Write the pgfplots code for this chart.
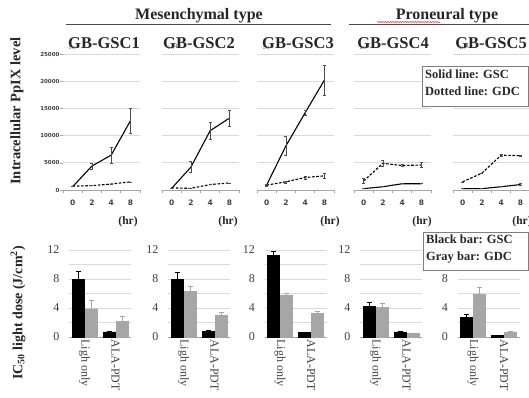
\documentclass[border=0pt]{standalone}
\usepackage{fontspec}
\setmainfont{Liberation Serif}
\newfontfamily\dvs{DejaVu Sans}
\usepackage{pgfplots}
\pgfplotsset{compat=1.18}
\usetikzlibrary{decorations.pathmorphing}
\definecolor{gridc}{HTML}{D9D9D9}
\definecolor{barg}{HTML}{A6A6A6}
\definecolor{axc}{HTML}{A6A6A6}
\definecolor{tickc}{HTML}{404040}
\definecolor{boxc}{HTML}{7F7F7F}

\pgfplotsset{
 topp/.style={scale only axis, width=77pt, height=136pt, anchor=south west,
  xmin=-0.5, xmax=3.5, ymin=0, ymax=25000,
  axis x line=bottom, axis y line=left,
  x axis line style={axc, line width=0.8pt, -},
  y axis line style={draw=none},
  major tick length=0pt, minor tick length=3pt, tick align=outside,
  xtick={0,1,2,3}, xticklabels={0,2,4,8},
  minor xtick={-0.5,0.5,1.5,2.5,3.5},
  tick style={axc, line width=0.6pt},
  ytick={0,5000,...,25000}, yticklabels={},
  ymajorgrids, grid style={gridc, line width=0.8pt},
  xticklabel style={font=\dvs\bfseries\fontsize{7.5}{8}\selectfont, text=tickc, yshift=-6pt},
  yticklabel style={font=\dvs\bfseries\fontsize{5.5}{6}\selectfont, text=tickc},
  clip=false,
 },
 botp/.style={scale only axis, width=62pt, height=87pt, anchor=south west,
  xmin=-0.5, xmax=1.5, ymin=0, ymax=12,
  axis x line=bottom, axis y line=left,
  x axis line style={axc, line width=0.8pt, -},
  y axis line style={draw=none},
  major tick length=0pt, minor tick length=0pt,
  ytick={0,4,8,12}, yticklabels={0,4,8,12}, minor ytick={2,6,10},
  ymajorgrids, yminorgrids, grid style={gridc, line width=0.8pt},
  minor grid style={gridc, line width=0.8pt},
  xtick={0,1}, xticklabels={Ligh only,ALA-PDT},
  xticklabel style={rotate=-90, anchor=west, font=\fontsize{12}{12}\selectfont, text=tickc, xshift=-1pt},
  yticklabel style={font=\fontsize{12}{12}\selectfont, text=tickc, xshift=-6pt},
  ybar=1pt, bar width=12pt, clip=false,
 },
 solidl/.style={black, line width=1.1pt, mark=none,
  error bars/.cd, y dir=both, y explicit,
  error bar style={black!70, line width=0.5pt, solid},
  error mark options={rotate=90, mark size=1.6pt, black!70, line width=0.5pt, solid}},
 dotl/.style={black, line width=1.1pt, dash pattern=on 2.6pt off 1.6pt, mark=none,
  error bars/.cd, y dir=both, y explicit,
  error bar style={black!70, line width=0.5pt, solid},
  error mark options={rotate=90, mark size=1.6pt, black!70, line width=0.5pt, solid}},
 blackbar/.style={fill=black, draw=black,
  error bars/.cd, y dir=plus, y explicit,
  error bar style={black, line width=0.6pt},
  error mark options={rotate=90, mark size=2.5pt, black, line width=0.6pt}},
 graybar/.style={fill=barg, draw=barg,
  error bars/.cd, y dir=plus, y explicit,
  error bar style={barg, line width=0.6pt},
  error mark options={rotate=90, mark size=2.5pt, barg, line width=0.6pt}},
}

\begin{document}
\begin{tikzpicture}[x=1pt,y=1pt]
\useasboundingbox (0,0) rectangle (529,397);
\clip (0,0) rectangle (529,397);

% ---------- top row ----------
\begin{axis}[topp, at={(63pt,207pt)}, yticklabels={0,5000,10000,15000,20000,25000},
  minor ytick={0,5000,...,25000}]
\addplot[solidl] coordinates {(0,600) +- (0,0) (1,4400) +- (0,500) (2,6400) +- (0,1400) (3,12700) +- (0,2250)};
\addplot[dotl] coordinates {(0,700) +- (0,0) (1,800) +- (0,0) (2,1100) +- (0,0) (3,1500) +- (0,0)};
\end{axis}

\begin{axis}[topp, at={(162pt,207pt)}]
\addplot[solidl] coordinates {(0,300) +- (0,0) (1,4200) +- (0,1000) (2,10900) +- (0,1600) (3,13200) +- (0,1400)};
\addplot[dotl] coordinates {(0,400) +- (0,0) (1,300) +- (0,0) (2,1000) +- (0,0) (3,1300) +- (0,0)};
\end{axis}

\begin{axis}[topp, at={(257pt,207pt)}]
\addplot[solidl] coordinates {(0,900) +- (0,0) (1,8100) +- (0,1700) (2,14200) +- (0,400) (3,20200) +- (0,2750)};
\addplot[dotl] coordinates {(0,900) +- (0,200) (1,1500) +- (0,200) (2,2300) +- (0,300) (3,2600) +- (0,400)};
\end{axis}

\begin{axis}[topp, at={(354pt,207pt)}]
\addplot[solidl] coordinates {(0,250) +- (0,0) (1,600) +- (0,0) (2,1150) +- (0,0) (3,1150) +- (0,0)};
\addplot[dotl] coordinates {(0,1650) +- (0,450) (1,4900) +- (0,600) (2,4500) +- (0,200) (3,4600) +- (0,500)};
\end{axis}

\begin{axis}[topp, at={(453pt,207pt)}]
\addplot[solidl] coordinates {(0,250) +- (0,0) (1,250) +- (0,0) (2,600) +- (0,0) (3,1000) +- (0,150)};
\addplot[dotl] coordinates {(0,1500) +- (0,0) (1,3100) +- (0,0) (2,6400) +- (0,200) (3,6300) +- (0,100)};
\end{axis}

% ---------- bottom row ----------
\begin{axis}[botp, at={(69pt,60pt)}]
\addplot[blackbar] coordinates {(0,8.0) +- (0,1.0) (1,0.7) +- (0,0.1)};
\addplot[graybar] coordinates {(0,3.9) +- (0,1.1) (1,2.2) +- (0,0.6)};
\end{axis}

\begin{axis}[botp, at={(168pt,60pt)}]
\addplot[blackbar] coordinates {(0,8.0) +- (0,0.9) (1,0.8) +- (0,0.1)};
\addplot[graybar] coordinates {(0,6.3) +- (0,0.7) (1,3.0) +- (0,0.4)};
\end{axis}

\begin{axis}[botp, at={(264.5pt,60pt)}]
\addplot[blackbar] coordinates {(0,11.3) +- (0,0.5) (1,0.6) +- (0,0.1)};
\addplot[graybar] coordinates {(0,5.7) +- (0,0.3) (1,3.3) +- (0,0.2)};
\end{axis}

\begin{axis}[botp, at={(360pt,60pt)}]
\addplot[blackbar] coordinates {(0,4.2) +- (0,0.6) (1,0.7) +- (0,0.1)};
\addplot[graybar] coordinates {(0,4.1) +- (0,0.6) (1,0.5) +- (0,0.05)};
\end{axis}

\begin{axis}[botp, at={(457.5pt,60pt)}]
\addplot[blackbar] coordinates {(0,2.7) +- (0,0.5) (1,0.2) +- (0,0.05)};
\addplot[graybar] coordinates {(0,5.9) +- (0,0.9) (1,0.7) +- (0,0.1)};
\end{axis}

% ---------- headings ----------
\node[font=\bfseries\fontsize{16}{16}\selectfont, anchor=base, text=black!85] at (199,377) {Mesenchymal type};
\node[font=\bfseries\fontsize{16}{16}\selectfont, anchor=base, text=black!85] at (447,377) {Proneural type};
\draw[black!70, line width=1.2pt] (66,372.6) -- (331,372.6);
\draw[black!70, line width=1.2pt] (349,372.6) -- (529,372.6);
\draw[red!80, line width=0.5pt, decorate, decoration={snake, amplitude=0.6pt, segment length=2.5pt}] (377,375) -- (440,375);

\node[font=\bfseries\fontsize{16.5}{17}\selectfont, anchor=base, text=black!85] at (104,348.7) {GB-GSC1};
\node[font=\bfseries\fontsize{16.5}{17}\selectfont, anchor=base, text=black!85] at (199,348.7) {GB-GSC2};
\node[font=\bfseries\fontsize{16.5}{17}\selectfont, anchor=base, text=black!85] at (298,348.7) {GB-GSC3};
\node[font=\bfseries\fontsize{16.5}{17}\selectfont, anchor=base, text=black!85] at (393,348.7) {GB-GSC4};
\node[font=\bfseries\fontsize{16.5}{17}\selectfont, anchor=base, text=black!85] at (491,348.7) {GB-GSC5};

\node[font=\bfseries\fontsize{11.5}{12}\selectfont, text=black!85] at (128,175) {(hr)};
\node[font=\bfseries\fontsize{11.5}{12}\selectfont, text=black!85] at (228,175) {(hr)};
\node[font=\bfseries\fontsize{11.5}{12}\selectfont, text=black!85] at (330,175) {(hr)};
\node[font=\bfseries\fontsize{11.5}{12}\selectfont, text=black!85] at (422,175) {(hr)};
\node[font=\bfseries\fontsize{11.5}{12}\selectfont, text=black!85] at (522,175) {(hr)};

\node[rotate=90, font=\bfseries\fontsize{14.5}{15}\selectfont, text=black!85] at (17,286) {Intracellular PpIX level};
\node[rotate=90, font=\bfseries\fontsize{14}{15}\selectfont, text=black!85] at (18,84) {IC\textsubscript{50} light dose (J/cm\textsuperscript{2})};

% ---------- legend boxes ----------
\draw[boxc, line width=1pt, fill=white] (422.5,291) rectangle (528,330);
\node[anchor=north west, inner sep=0pt, align=left, font=\bfseries\fontsize{12.5}{17}\selectfont, text=black!85] at (425,327) {Solid line: GSC\\Dotted line: GDC};
\draw[boxc, line width=1pt, fill=white] (423,127) rectangle (528,165);
\node[anchor=north west, inner sep=0pt, align=left, font=\bfseries\fontsize{12.5}{17}\selectfont, text=black!85] at (426,162) {Black bar: GSC\\Gray bar: GDC};
\end{tikzpicture}
\end{document}
